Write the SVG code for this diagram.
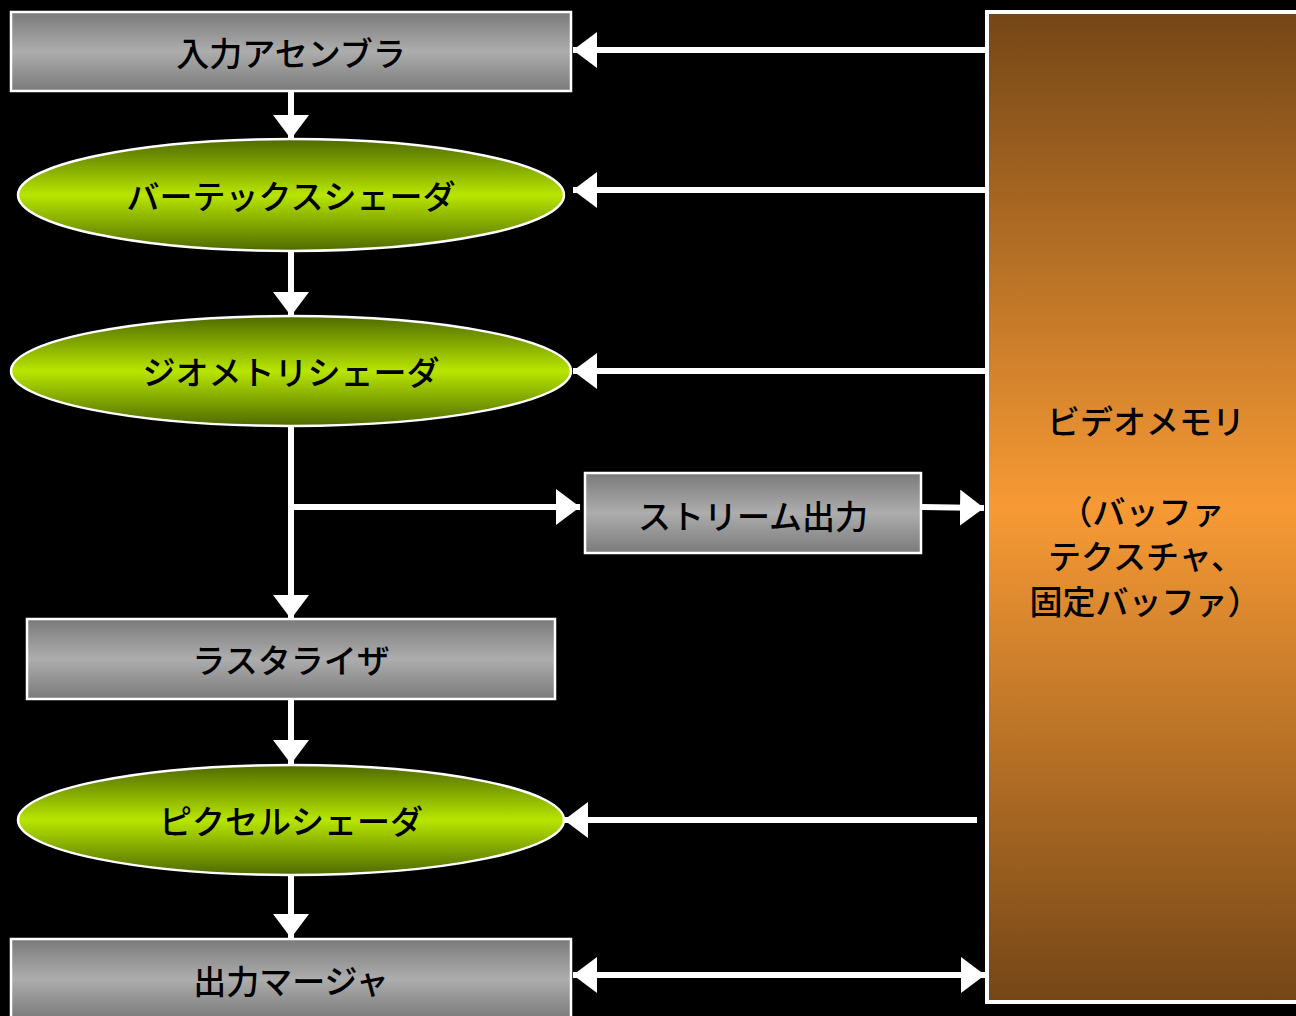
<svg xmlns="http://www.w3.org/2000/svg" width="1296" height="1016" viewBox="0 0 1296 1016">
<defs>
<linearGradient id="gray" x1="0" y1="0" x2="0" y2="1">
<stop offset="0" stop-color="#7a7a7a"/><stop offset="0.5" stop-color="#adadad"/><stop offset="1" stop-color="#7a7a7a"/>
</linearGradient>
<linearGradient id="green" x1="0" y1="0" x2="0" y2="1">
<stop offset="0" stop-color="#4f6a00"/><stop offset="0.5" stop-color="#b8e600"/><stop offset="1" stop-color="#4f6a00"/>
</linearGradient>
<linearGradient id="orange" x1="0" y1="0" x2="0" y2="1">
<stop offset="0" stop-color="#744617"/><stop offset="0.5" stop-color="#f79a35"/><stop offset="1" stop-color="#744617"/>
</linearGradient>
<marker id="ah" viewBox="0 0 24 36" refX="24" refY="18" markerWidth="24" markerHeight="36" markerUnits="userSpaceOnUse" orient="auto-start-reverse">
<path d="M0,0 L24,18 L0,36 Z" fill="#fff"/>
</marker>
<style>
.box{fill:url(#gray);stroke:#fff;stroke-width:2.5}
.ell{fill:url(#green);stroke:#fff;stroke-width:2.5}
.lbl{font-family:"Noto Sans CJK JP","Noto Sans CJK SC",sans-serif;font-size:33px;font-weight:500;fill:#000;text-anchor:middle;dominant-baseline:central}
.c{stroke:#fff;stroke-width:6;fill:none}
</style>
</defs>
<rect width="1296" height="1016" fill="#000"/>
<g id="n-memory">
<rect x="987" y="12" width="312" height="990" fill="url(#orange)" stroke="#fff" stroke-width="4"/>
<text class="lbl" x="1146" y="420">ビデオメモリ</text>
<text class="lbl" x="1142" y="510">（バッファ</text>
<text class="lbl" x="1146" y="555">テクスチャ、</text>
<text class="lbl" x="1145" y="600">固定バッファ）</text>
</g>
<g id="n-input">
<rect class="box" x="11" y="12" width="560" height="79"/>
<text class="lbl" x="291" y="52">入力アセンブラ</text>
</g>
<g id="n-vertex">
<ellipse class="ell" cx="291" cy="195" rx="273" ry="56"/>
<text class="lbl" x="291" y="195">バーテックスシェーダ</text>
</g>
<g id="n-geometry">
<ellipse class="ell" cx="291" cy="371" rx="280" ry="55"/>
<text class="lbl" x="291" y="371">ジオメトリシェーダ</text>
</g>
<g id="n-stream">
<rect class="box" x="585" y="473" width="336" height="80"/>
<text class="lbl" x="753" y="515">ストリーム出力</text>
</g>
<g id="n-raster">
<rect class="box" x="27" y="619" width="528" height="80"/>
<text class="lbl" x="291" y="659">ラスタライザ</text>
</g>
<g id="n-pixel">
<ellipse class="ell" cx="291" cy="820" rx="273" ry="55"/>
<text class="lbl" x="291" y="820">ピクセルシェーダ</text>
</g>
<g id="n-output">
<rect class="box" x="11" y="939" width="560" height="80"/>
<text class="lbl" x="291" y="980">出力マージャ</text>
</g>
<g id="connectors">
<line class="c" x1="291" y1="92" x2="291" y2="139" marker-end="url(#ah)"/>
<line class="c" x1="291" y1="251" x2="291" y2="316" marker-end="url(#ah)"/>
<line class="c" x1="291" y1="426" x2="291" y2="619" marker-end="url(#ah)"/>
<line class="c" x1="291" y1="507" x2="580" y2="507" marker-end="url(#ah)"/>
<line class="c" x1="922" y1="507" x2="984" y2="508" marker-end="url(#ah)"/>
<line class="c" x1="291" y1="700" x2="291" y2="764" marker-end="url(#ah)"/>
<line class="c" x1="291" y1="876" x2="291" y2="938" marker-end="url(#ah)"/>
<line class="c" x1="985" y1="50" x2="573" y2="50" marker-end="url(#ah)"/>
<line class="c" x1="985" y1="190" x2="573" y2="190" marker-end="url(#ah)"/>
<line class="c" x1="985" y1="371" x2="573" y2="371" marker-end="url(#ah)"/>
<line class="c" x1="977" y1="820" x2="564" y2="820" marker-end="url(#ah)"/>
<line class="c" x1="573" y1="975" x2="985" y2="975" marker-start="url(#ah)" marker-end="url(#ah)"/>
</g>
</svg>
